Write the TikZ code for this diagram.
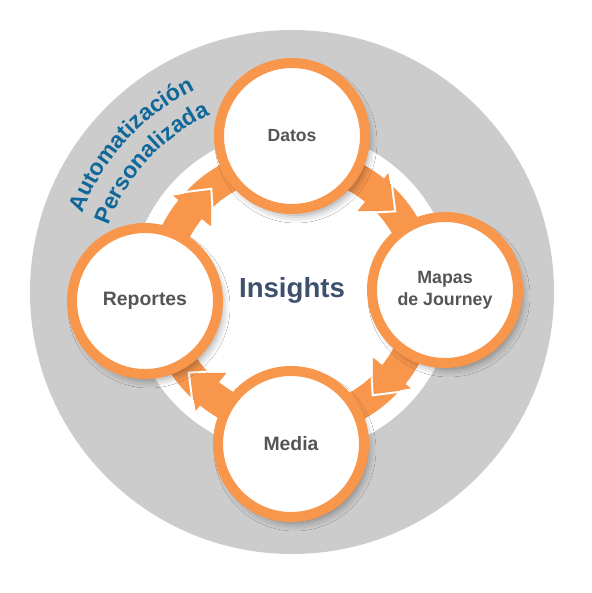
\documentclass[tikz,border=0pt]{standalone}
\usepackage{fontspec}
\setmainfont{Liberation Sans}
\usetikzlibrary{shadows.blur,decorations.text}
\definecolor{orng}{RGB}{248,150,76}
\definecolor{ringgray}{RGB}{204,204,204}
\definecolor{labelgray}{RGB}{85,85,85}
\definecolor{insightblue}{RGB}{62,80,108}
\definecolor{autoblue}{RGB}{16,104,153}
\tikzset{
  stage/.style={circle, draw=orng, line width=10pt, fill=white, minimum size=146pt,
    inner sep=0pt, text=labelgray, align=center,
    blur shadow={shadow xshift=4pt, shadow yshift=-6pt, shadow blur radius=8pt, shadow opacity=40}},
  arrowhead/.style={fill=orng},
  arrowedge/.style={draw=white, line width=2pt, line join=miter},
  curvedtext/.style={decorate, decoration={text along path, text align=center, text={#1}}}
}
\begin{document}
\begin{tikzpicture}[x=1pt,y=1pt]
\useasboundingbox (-292,-301) rectangle (299,292);
% background rings
\fill[ringgray] (0,0) circle[radius=262];
\fill[white] (0,0) circle[radius=162];
\fill[orng, even odd rule] (0,0) circle[radius=146] (0,0) circle[radius=116];
% arrowheads on the cycle
\foreach \d in {45,-45,-135,135} {
  \fill[arrowhead] (\d+6:153) -- (\d-7:131) -- (\d+6:104) -- cycle;
  \draw[arrowedge] (\d+6:156) -- (\d-7:131) -- (\d+6:101);
}
% curved title
\path[curvedtext={|\color{autoblue}\bfseries\fontsize{23}{23}\selectfont|Automatización}]
  (172:224) arc[start angle=172, end angle=103, radius=224];
\path[curvedtext={|\color{autoblue}\bfseries\fontsize{23}{23}\selectfont|Personalizada}]
  (175:195) arc[start angle=175, end angle=100, radius=195];
% stages
\node[stage, font=\bfseries\fontsize{17.6}{21}\selectfont] (datos) at (0,156) {Datos};
\node[stage, font=\bfseries\fontsize{17.8}{21.7}\selectfont] (mapas) at (153,2) {Mapas\\de Journey};
\node[stage, font=\bfseries\fontsize{19.4}{22}\selectfont] (media) at (-1,-152) {Media};
\node[stage, font=\bfseries\fontsize{19.4}{22}\selectfont] (reportes) at (-147,-9) {Reportes};
% center
\node[anchor=base, text=insightblue, font=\bfseries\fontsize{27.6}{30}\selectfont] (insights) at (0,-6) {Insights};
\end{tikzpicture}
\end{document}
